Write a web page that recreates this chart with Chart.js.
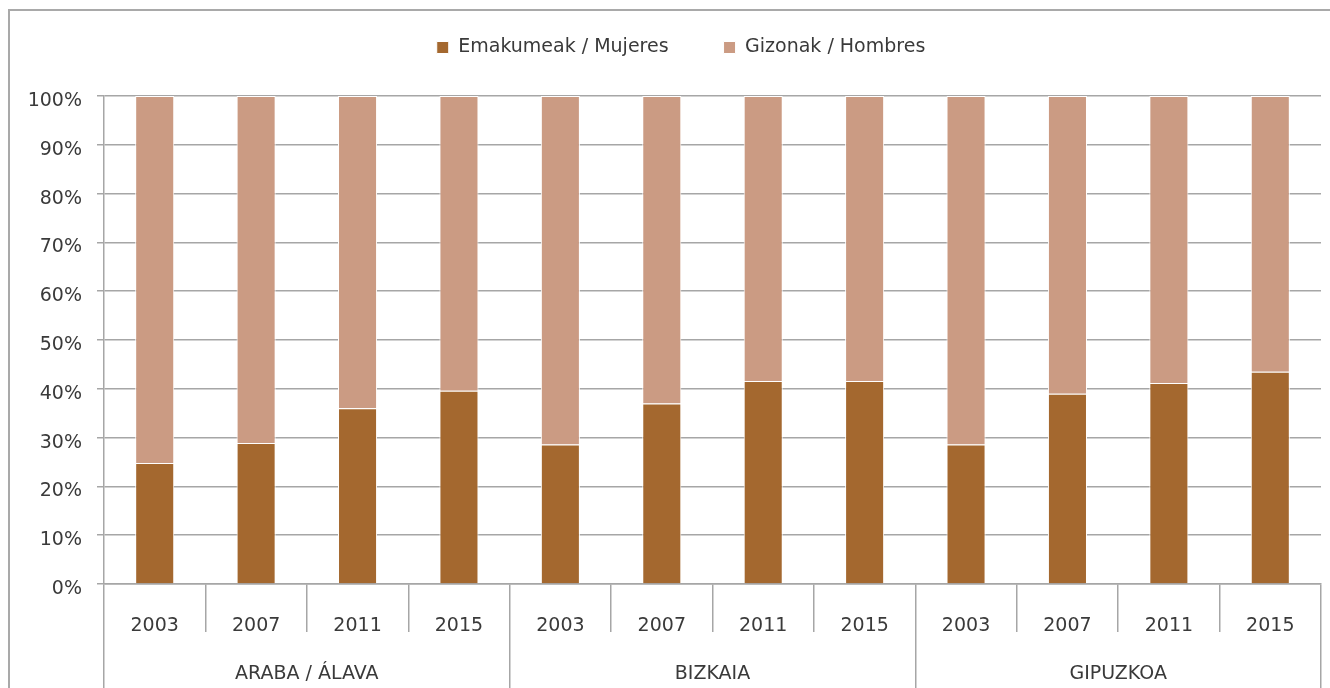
<!DOCTYPE html>
<html>
<head>
<meta charset="utf-8">
<script src="https://cdn.jsdelivr.net/npm/chart.js@4"></script>
<style>
    html, body { margin: 0; padding: 0; background: #fff; overflow: hidden; }
    #frame {
        position: absolute;
        left: 8px;
        top: 9px;
        width: 1360px;
        height: 701px;
        border: 2px solid #a9a9a9;
        border-right: none;
    }
    #chart { display: block; }
</style>
</head>
<body>
<div id="frame">
    <canvas id="chart" width="1342" height="701"></canvas>
</div>
<script>
const years = ["2003", "2007", "2011", "2015", "2003", "2007", "2011", "2015", "2003", "2007", "2011", "2015"];
const regions = ["ARABA / ÁLAVA", "BIZKAIA", "GIPUZKOA"];
const yTicks = [0, 10, 20, 30, 40, 50, 60, 70, 80, 90, 100];

const women = [24.8, 28.9, 36.0, 39.6, 28.6, 37.0, 41.6, 41.6, 28.6, 39.0, 41.2, 43.5];
const men = [75.2, 71.1, 64.0, 60.4, 71.4, 63.0, 58.4, 58.4, 71.4, 61.0, 58.8, 56.5];

const seriesNames = ["Emakumeak / Mujeres", "Gizonak / Hombres"];
const seriesColors = ["#a4682f", "#cb9b83"];

const lineGray = "#a6a6a6";
const textGray = "#3a3a3a";

// the legend gets a fixed height so the plot top lands where it should
const legendHeight = {
    id: "legendHeight",
    beforeInit(chart) {
        const fit = chart.legend.fit;
        chart.legend.fit = function () {
            fit.bind(chart.legend)();
            this.height = 113;
        };
    }
};

new Chart("chart", {
    type: "bar",
    data: {
        labels: years,
        datasets: [{
            label: seriesNames[0],
            data: women,
            backgroundColor: seriesColors[0],
            borderColor: "#ffffff",
            borderWidth: 1,
            barPercentage: 0.385,
            categoryPercentage: 1
        }, {
            label: seriesNames[1],
            data: men,
            backgroundColor: seriesColors[1],
            borderColor: "#ffffff",
            borderWidth: 1,
            barPercentage: 0.385,
            categoryPercentage: 1
        }]
    },
    options: {
        responsive: false,
        animation: false,
        layout: {
            padding: { top: -28, right: 0, bottom: 0, left: 0 }
        },
        plugins: {
            tooltip: { enabled: false },
            legend: {
                position: "top",
                labels: {
                    boxWidth: 12,
                    boxHeight: 12,
                    padding: 55,
                    color: textGray,
                    font: { family: "DejaVu Sans", size: 19 }
                }
            }
        },
        scales: {
            x: {
                stacked: true,
                offset: true,
                grid: {
                    offset: true,
                    drawOnChartArea: false,
                    tickLength: 48,
                    color: lineGray,
                    lineWidth: 1.5
                },
                border: { display: true, color: lineGray, width: 1.5 },
                ticks: {
                    autoSkip: false,
                    maxRotation: 0,
                    padding: -17,
                    color: textGray,
                    font: { family: "DejaVu Sans", size: 19 }
                },
                afterFit(scale) { scale.height = 48; }
            },
            x2: {
                type: "category",
                position: "bottom",
                labels: regions,
                offset: true,
                grid: {
                    offset: true,
                    drawOnChartArea: false,
                    tickLength: 80,
                    color: lineGray,
                    lineWidth: 1.5
                },
                border: { display: false },
                ticks: {
                    autoSkip: false,
                    maxRotation: 0,
                    padding: -49,
                    color: textGray,
                    font: { family: "DejaVu Sans", size: 19 }
                },
                afterFit(scale) { scale.height = 80; }
            },
            y: {
                stacked: true,
                min: 0,
                max: 100,
                afterBuildTicks(scale) {
                    scale.ticks = yTicks.map(v => ({ value: v }));
                },
                grid: {
                    tickLength: 7,
                    color: lineGray,
                    lineWidth: 1.5
                },
                border: { display: true, color: lineGray, width: 1.5 },
                ticks: {
                    padding: 15,
                    labelOffset: 5,
                    color: textGray,
                    font: { family: "DejaVu Sans", size: 19 },
                    callback: (value) => value + "%"
                },
                afterFit(scale) { scale.width = 94; }
            },
            // empty strip on the right, keeps the plot clear of the edge
            yRight: {
                position: "right",
                display: true,
                grid: { display: false },
                border: { display: false },
                ticks: { display: false },
                afterFit(scale) { scale.width = 31; }
            }
        }
    },
    plugins: [legendHeight]
});
</script>
</body>
</html>
